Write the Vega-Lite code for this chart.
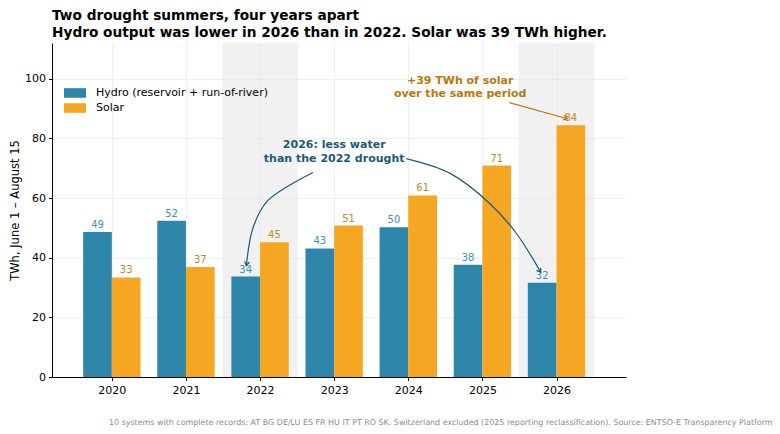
{
  "$schema": "https://vega.github.io/schema/vega-lite/v6.json",
  "width": 574,
  "height": 334,
  "autosize": {"type": "none"},
  "padding": {"left": 52, "top": 43, "right": 154, "bottom": 57},
  "background": "white",
  "config": {
    "font": "DejaVu Sans",
    "view": {"stroke": null},
    "axis": {
      "labelFont": "DejaVu Sans",
      "titleFont": "DejaVu Sans",
      "labelFontSize": 11,
      "labelColor": "black",
      "domainColor": "black",
      "tickColor": "black",
      "tickSize": 3.5,
      "gridColor": "#ebebeb",
      "gridWidth": 0.8
    }
  },
  "title": {
    "text": ["Two drought summers, four years apart", "Hydro output was lower in 2026 than in 2022. Solar was 39 TWh higher."],
    "anchor": "start",
    "frame": "group",
    "fontSize": 13.7,
    "fontWeight": "bold",
    "font": "DejaVu Sans",
    "color": "black",
    "lineHeight": 17,
    "offset": 3
  },
  "datasets": {
    "summers": [
      {"year": 2020, "hydro": 48.6, "solar": 33.4, "drought": false},
      {"year": 2021, "hydro": 52.4, "solar": 36.9, "drought": false},
      {"year": 2022, "hydro": 33.7, "solar": 45.2, "drought": true},
      {"year": 2023, "hydro": 43.1, "solar": 50.8, "drought": false},
      {"year": 2024, "hydro": 50.2, "solar": 60.9, "drought": false},
      {"year": 2025, "hydro": 37.6, "solar": 70.9, "drought": false},
      {"year": 2026, "hydro": 31.6, "solar": 84.4, "drought": true}
    ],
    "arrows": [
      {"arrow": "to2022", "seq": 1, "x": 2022.715, "y": 68.6},
      {"arrow": "to2022", "seq": 2, "x": 2022.106, "y": 59.2},
      {"arrow": "to2022", "seq": 3, "x": 2021.907, "y": 50.2},
      {"arrow": "to2022", "seq": 4, "x": 2021.815, "y": 37.3},
      {"arrow": "to2026", "seq": 1, "x": 2023.974, "y": 73.2},
      {"arrow": "to2026", "seq": 2, "x": 2024.57, "y": 68.2},
      {"arrow": "to2026", "seq": 3, "x": 2025.099, "y": 58.2},
      {"arrow": "to2026", "seq": 4, "x": 2025.457, "y": 48.2},
      {"arrow": "to2026", "seq": 5, "x": 2025.788, "y": 35.1},
      {"arrow": "solar", "seq": 1, "x": 2025.364, "y": 92.0},
      {"arrow": "solar", "seq": 2, "x": 2026.146, "y": 86.6}
    ],
    "notes": [
      {"note": "hydro", "x": 2023.0, "y": 77.9, "label": "2026: less water|than the 2022 drought"},
      {"note": "solar", "x": 2024.7, "y": 99.1, "label": "+39 TWh of solar|over the same period"}
    ]
  },
  "data": {"name": "summers"},
  "encoding": {
    "x": {
      "field": "year",
      "type": "quantitative",
      "scale": {"domain": [2019.26, 2026.87], "nice": false, "zero": false},
      "axis": {
        "values": [2020, 2021, 2022, 2023, 2024, 2025, 2026],
        "format": "d",
        "grid": true,
        "labelPadding": 4,
        "title": "10 systems with complete records: AT BG DE/LU ES FR HU IT PT RO SK. Switzerland excluded (2025 reporting reclassification). Source: ENTSO-E Transparency Platform",
        "titleFontSize": 7.95,
        "titleFontWeight": "normal",
        "titleColor": "#8c8c8c",
        "titleAlign": "right",
        "titleX": 720,
        "titleY": 45,
        "titleBaseline": "middle"
      }
    }
  },
  "layer": [
    {
      "transform": [{"filter": "datum.drought"}],
      "mark": {"type": "bar", "width": 75.5, "color": "#e6e6e6", "opacity": 0.55},
      "encoding": {
        "y": {"value": 0},
        "y2": {"value": "height"}
      }
    },
    {
      "mark": {"type": "bar", "width": 28.7, "xOffset": -14.35},
      "encoding": {
        "y": {
          "field": "hydro",
          "type": "quantitative",
          "scale": {"domain": [0, 112], "nice": false},
          "axis": {
            "values": [0, 20, 40, 60, 80, 100],
            "grid": true,
            "title": "TWh, June 1 – August 15",
            "titleFontSize": 11.5,
            "titleFontWeight": "normal",
            "titleColor": "black",
            "labelPadding": 3
          }
        },
        "color": {
          "datum": "Hydro (reservoir + run-of-river)",
          "scale": {
            "domain": ["Hydro (reservoir + run-of-river)", "Solar"],
            "range": ["#2e86ab", "#f5a623"]
          },
          "legend": {
            "title": null,
            "orient": "none",
            "legendX": 17,
            "legendY": 44,
            "labelFontSize": 11,
            "labelFont": "DejaVu Sans",
            "labelColor": "black",
            "labelLimit": 400,
            "symbolType": "M-1.83,-0.8H1.83V0.8H-1.83Z",
            "symbolSize": 144,
            "symbolStrokeWidth": 0,
            "symbolOpacity": 1,
            "rowPadding": 4,
            "labelOffset": 15
          }
        }
      }
    },
    {
      "mark": {"type": "bar", "width": 28.7, "xOffset": 14.35},
      "encoding": {
        "y": {"field": "solar", "type": "quantitative"},
        "color": {"datum": "Solar"}
      }
    },
    {
      "mark": {"type": "text", "xOffset": -14.35, "dy": -2, "baseline": "bottom", "fontSize": 10, "color": "#3b93c0"},
      "encoding": {
        "y": {"field": "hydro", "type": "quantitative"},
        "text": {"field": "hydro", "type": "quantitative", "format": ".0f"}
      }
    },
    {
      "mark": {"type": "text", "xOffset": 14.35, "dy": -2, "baseline": "bottom", "fontSize": 10, "color": "#c28a27"},
      "encoding": {
        "y": {"field": "solar", "type": "quantitative"},
        "text": {"field": "solar", "type": "quantitative", "format": ".0f"}
      }
    },
    {
      "data": {"name": "arrows"},
      "transform": [{"filter": "datum.arrow != 'solar'"}],
      "mark": {"type": "line", "interpolate": "catmull-rom", "color": "#1b5a7a", "strokeWidth": 1.2},
      "encoding": {
        "x": {"field": "x", "type": "quantitative"},
        "y": {"field": "y", "type": "quantitative"},
        "detail": {"field": "arrow"},
        "order": {"field": "seq"}
      }
    },
    {
      "data": {"name": "arrows"},
      "transform": [{"filter": "datum.arrow == 'solar'"}],
      "mark": {"type": "line", "color": "#b8790a", "strokeWidth": 1.2},
      "encoding": {
        "x": {"field": "x", "type": "quantitative"},
        "y": {"field": "y", "type": "quantitative"},
        "order": {"field": "seq"}
      }
    },
    {
      "data": {"name": "arrows"},
      "transform": [{"filter": "datum.arrow == 'to2022' && datum.seq == 4"}],
      "mark": {"type": "point", "shape": "M-0.6,-1L0,0L0.6,-1", "size": 64, "angle": 10, "filled": false, "color": "#1b5a7a", "strokeWidth": 1.2, "opacity": 1},
      "encoding": {
        "x": {"field": "x", "type": "quantitative"},
        "y": {"field": "y", "type": "quantitative"}
      }
    },
    {
      "data": {"name": "arrows"},
      "transform": [{"filter": "datum.arrow == 'to2026' && datum.seq == 5"}],
      "mark": {"type": "point", "shape": "M-0.6,-1L0,0L0.6,-1", "size": 64, "angle": -33, "filled": false, "color": "#1b5a7a", "strokeWidth": 1.2, "opacity": 1},
      "encoding": {
        "x": {"field": "x", "type": "quantitative"},
        "y": {"field": "y", "type": "quantitative"}
      }
    },
    {
      "data": {"name": "arrows"},
      "transform": [{"filter": "datum.arrow == 'solar' && datum.seq == 2"}],
      "mark": {"type": "point", "shape": "M-0.6,-1L0,0L0.6,-1", "size": 64, "angle": -74, "filled": false, "color": "#b8790a", "strokeWidth": 1.2, "opacity": 1},
      "encoding": {
        "x": {"field": "x", "type": "quantitative"},
        "y": {"field": "y", "type": "quantitative"}
      }
    },
    {
      "data": {"name": "notes"},
      "transform": [{"filter": "datum.note == 'hydro'"}],
      "mark": {"type": "text", "fontSize": 11, "fontWeight": "bold", "color": "#1b5a7a", "align": "center", "baseline": "middle", "lineHeight": 14, "lineBreak": "|"},
      "encoding": {
        "x": {"field": "x", "type": "quantitative"},
        "y": {"field": "y", "type": "quantitative"},
        "text": {"field": "label", "type": "nominal"}
      }
    },
    {
      "data": {"name": "notes"},
      "transform": [{"filter": "datum.note == 'solar'"}],
      "mark": {"type": "text", "fontSize": 11, "fontWeight": "bold", "color": "#b8790a", "align": "center", "baseline": "middle", "lineHeight": 13, "lineBreak": "|"},
      "encoding": {
        "x": {"field": "x", "type": "quantitative"},
        "y": {"field": "y", "type": "quantitative"},
        "text": {"field": "label", "type": "nominal"}
      }
    }
  ]
}
